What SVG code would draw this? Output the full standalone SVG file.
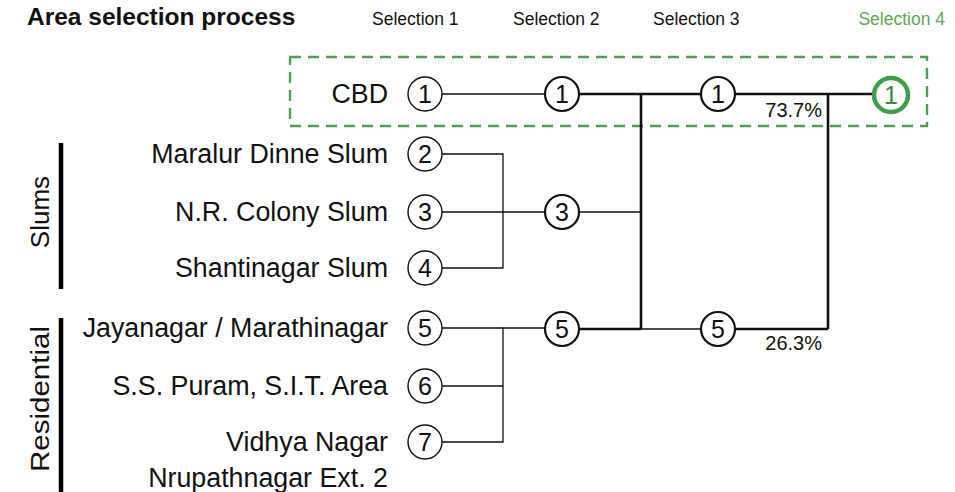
<svg xmlns="http://www.w3.org/2000/svg" width="955" height="492" viewBox="0 0 955 492">
<style>
text{font-family:"Liberation Sans",Arial,Helvetica,sans-serif;fill:#111}
.title{font-size:24.5px;font-weight:bold}
.hdr{font-size:17.5px}
.lbl{font-size:26.8px;text-anchor:end}
.num{font-size:25px;text-anchor:middle}
.pct{font-size:20px;text-anchor:end}
.grp{font-size:26px;text-anchor:middle}
.c1{fill:#fff;stroke:#111;stroke-width:1.4}
.c2{fill:#fff;stroke:#111;stroke-width:2.2}
.thin{stroke:#111;stroke-width:1.3;fill:none}
.thick{stroke:#111;stroke-width:2.6;fill:none}
.bar{stroke:#000;stroke-width:4.5}
</style>
<rect width="955" height="492" fill="#fff"/>
<text class="title" x="27" y="25">Area selection process</text>
<text class="hdr" x="372" y="25">Selection 1</text>
<text class="hdr" x="513" y="25">Selection 2</text>
<text class="hdr" x="653" y="25">Selection 3</text>
<text class="hdr" x="945" y="25" text-anchor="end" style="fill:#5aaa5a">Selection 4</text>
<rect id="cbd-box" x="290" y="57" width="637" height="69" fill="none" stroke="#4f9f55" stroke-width="2.4" stroke-dasharray="11 7"/>
<g id="groups">
<line class="bar" x1="61" y1="143" x2="61" y2="289"/>
<text class="grp" transform="translate(49 212) rotate(-90)">Slums</text>
<line class="bar" x1="61" y1="318" x2="61" y2="492"/>
<text class="grp" transform="translate(49 399) rotate(-90)" textLength="146" lengthAdjust="spacingAndGlyphs">Residential</text>
</g>
<g id="connectors">
<line class="thin" x1="442" y1="94" x2="545" y2="94"/>
<line class="thick" x1="579" y1="94" x2="701" y2="94"/>
<line class="thick" x1="735" y1="94" x2="872" y2="94"/>
<line class="thick" x1="641" y1="94" x2="641" y2="329"/>
<line class="thick" x1="828" y1="94" x2="828" y2="329"/>
<polyline class="thin" points="442,154 503,154 503,268 442,268"/>
<line class="thin" x1="442" y1="212" x2="545" y2="212"/>
<line class="thin" x1="579" y1="212" x2="641" y2="212"/>
<polyline class="thin" points="442,328 503,328 503,442 442,442"/>
<line class="thin" x1="442" y1="386" x2="503" y2="386"/>
<line class="thin" x1="503" y1="328" x2="545" y2="328"/>
<line class="thick" x1="579" y1="329" x2="641" y2="329"/>
<line class="thin" x1="641" y1="329" x2="701" y2="329"/>
<line class="thick" x1="735" y1="329" x2="828" y2="329"/>
</g>
<g id="n-cbd"><text class="lbl" x="388" y="103">CBD</text><circle class="c1" cx="425" cy="94" r="17"/><text class="num" x="425" y="103">1</text></g>
<g id="n-maralur"><text class="lbl" x="388" y="163">Maralur Dinne Slum</text><circle class="c1" cx="425" cy="154" r="17"/><text class="num" x="425" y="163">2</text></g>
<g id="n-nrcolony"><text class="lbl" x="388" y="221">N.R. Colony Slum</text><circle class="c1" cx="425" cy="212" r="17"/><text class="num" x="425" y="221">3</text></g>
<g id="n-shantinagar"><text class="lbl" x="388" y="277">Shantinagar Slum</text><circle class="c1" cx="425" cy="268" r="17"/><text class="num" x="425" y="277">4</text></g>
<g id="n-jayanagar"><text class="lbl" x="388" y="337">Jayanagar / Marathinagar</text><circle class="c1" cx="425" cy="328" r="17"/><text class="num" x="425" y="337">5</text></g>
<g id="n-sspuram"><text class="lbl" x="388" y="395">S.S. Puram, S.I.T. Area</text><circle class="c1" cx="425" cy="386" r="17"/><text class="num" x="425" y="395">6</text></g>
<g id="n-vidhya"><text class="lbl" x="388" y="451">Vidhya Nagar</text><text class="lbl" x="388" y="487">Nrupathnagar Ext. 2</text><circle class="c1" cx="425" cy="442" r="17"/><text class="num" x="425" y="451">7</text></g>
<g id="s2-1"><circle class="c2" cx="562" cy="94" r="17"/><text class="num" x="562" y="103">1</text></g>
<g id="s2-3"><circle class="c2" cx="562" cy="212" r="17"/><text class="num" x="562" y="221">3</text></g>
<g id="s2-5"><circle class="c2" cx="562" cy="329" r="17"/><text class="num" x="562" y="338">5</text></g>
<g id="s3-1"><circle class="c2" cx="718" cy="94" r="17"/><text class="num" x="718" y="103">1</text></g>
<g id="s3-5"><circle class="c2" cx="718" cy="329" r="17"/><text class="num" x="718" y="338">5</text></g>
<g id="s4-1"><circle cx="891" cy="95" r="17" fill="#fff" stroke="#3f9f46" stroke-width="4.5"/><text class="num" x="891" y="104" style="fill:#3a8a44">1</text></g>
<text class="pct" x="822" y="117">73.7%</text>
<text class="pct" x="822" y="350">26.3%</text>
</svg>
